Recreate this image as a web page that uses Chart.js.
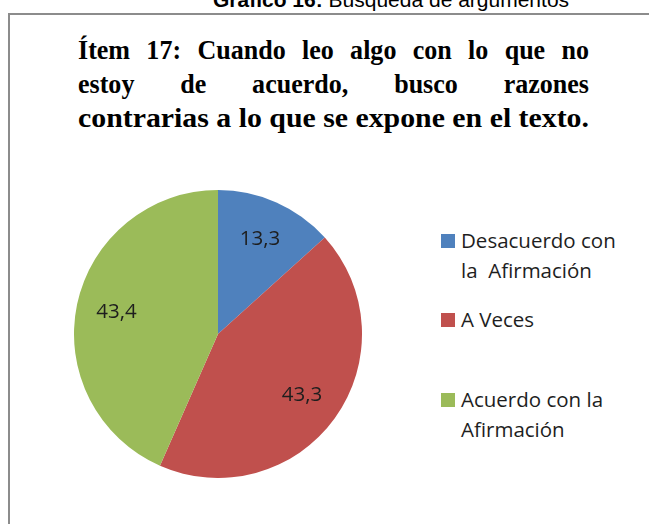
<!DOCTYPE html>
<html lang="es">
<head>
<meta charset="utf-8">
<title>Gráfico 16: Búsqueda de argumentos</title>
<script src="https://cdn.jsdelivr.net/npm/chart.js@4.4.0/dist/chart.umd.min.js"></script>
<style>
    html, body {
        margin: 0;
        padding: 0;
        width: 649px;
        height: 524px;
        overflow: hidden;
        background: #ffffff;
    }
    .caption {
        position: absolute;
        left: 213px;
        top: -12px;
        font-family: 'Liberation Sans', Arial, sans-serif;
        font-size: 21px;
        color: #000;
        white-space: nowrap;
    }
    .frame {
        position: absolute;
        left: 8px;
        top: 13px;
        width: 700px;
        height: 600px;
        border: 2px solid #8c8c8c;
        box-sizing: border-box;
    }
    .title {
        position: absolute;
        left: 78px;
        top: 33px;
        width: 511px;
        font-family: 'Liberation Serif', 'Times New Roman', serif;
        font-weight: bold;
        font-size: 28px;
        line-height: 34px;
        color: #000;
    }
    .title div {
        white-space: nowrap;
        transform-origin: left top;
    }
    .chart-box {
        position: absolute;
        left: 74px;
        top: 190px;
        width: 288px;
        height: 288px;
    }
    .legend {
        position: absolute;
        left: 441px;
        top: 0;
        font-family: 'Open Sans', 'Liberation Sans', sans-serif;
        font-size: 20.5px;
        line-height: 30px;
        color: #1e1e1e;
    }
    .legend-item {
        position: absolute;
        left: 0;
        white-space: pre;
    }
    .legend-item .swatch {
        position: absolute;
        left: 0;
        top: 9px;
        width: 14px;
        height: 14px;
    }
    .legend-item .text {
        margin-left: 20px;
    }
</style>
</head>
<body>
<div class="caption"><b>Gráfico 16:</b> Búsqueda de argumentos</div>
<div class="frame"></div>
<div class="title" id="title">
    <div><span>Ítem 17: Cuando leo algo con lo que no</span></div>
    <div><span>estoy de acuerdo, busco razones</span></div>
    <div><span>contrarias a lo que se expone en el texto.</span></div>
</div>
<div class="chart-box"><canvas id="pieChart"></canvas></div>
<div class="legend" id="legend"></div>

<script>
// Chart data
const categories = ['Desacuerdo con\nla  Afirmación', 'A Veces', 'Acuerdo con la\nAfirmación'];
const values = [13.3, 43.3, 43.4];
const colors = ['#4F81BD', '#C0504D', '#9BBB59'];
const legendTops = [225, 304, 384];

// Draw the value labels inside each slice
const sliceLabels = {
    id: 'sliceLabels',
    afterDatasetsDraw(chart) {
        const ctx = chart.ctx;
        const meta = chart.getDatasetMeta(0);
        ctx.save();
        ctx.font = '20.5px "Open Sans", "Liberation Sans", sans-serif';
        ctx.fillStyle = '#1e1e1e';
        ctx.textAlign = 'center';
        ctx.textBaseline = 'middle';
        meta.data.forEach((arc, i) => {
            const mid = (arc.startAngle + arc.endAngle) / 2;
            const r = arc.outerRadius * 0.72;
            const x = arc.x + Math.cos(mid) * r;
            const y = arc.y + Math.sin(mid) * r;
            ctx.fillText(values[i].toFixed(1).replace('.', ','), x, y);
        });
        ctx.restore();
    }
};

function initializePieChart() {
    const ctx = document.getElementById('pieChart');
    if (!ctx) return;

    new Chart(ctx, {
        type: 'pie',
        data: {
            labels: categories,
            datasets: [{
                data: values,
                backgroundColor: colors,
                borderColor: '#ffffff',
                borderWidth: 0
            }]
        },
        options: {
            responsive: true,
            maintainAspectRatio: false,
            animation: false,
            layout: { padding: 0 },
            plugins: {
                legend: { display: false },
                tooltip: { enabled: false }
            }
        },
        plugins: [sliceLabels]
    });
}

// Title: first two lines slightly condensed and justified, last line squeezed to fit
function fitTitle() {
    const width = 511;
    const scale = 0.93;
    const lines = document.querySelectorAll('#title div');
    lines.forEach((line, i) => {
        const span = line.querySelector('span');
        const natural = span.getBoundingClientRect().width;
        if (i < 2) {
            const s = Math.min(scale, width / natural);
            line.style.width = (width / s) + 'px';
            line.style.textAlign = 'justify';
            line.style.textAlignLast = 'justify';
            line.style.transform = 'scaleX(' + s + ')';
        } else {
            line.style.transform = 'scaleX(' + (width / natural) + ')';
        }
    });
}

// Build the legend from the same arrays
function buildLegend() {
    const legend = document.getElementById('legend');
    categories.forEach((label, i) => {
        const item = document.createElement('div');
        item.className = 'legend-item';
        item.style.top = legendTops[i] + 'px';
        const swatch = document.createElement('span');
        swatch.className = 'swatch';
        swatch.style.background = colors[i];
        const text = document.createElement('div');
        text.className = 'text';
        text.textContent = label;
        item.appendChild(swatch);
        item.appendChild(text);
        legend.appendChild(item);
    });
}

document.addEventListener('DOMContentLoaded', function() {
    fitTitle();
    buildLegend();
    initializePieChart();
});
</script>
</body>
</html>
